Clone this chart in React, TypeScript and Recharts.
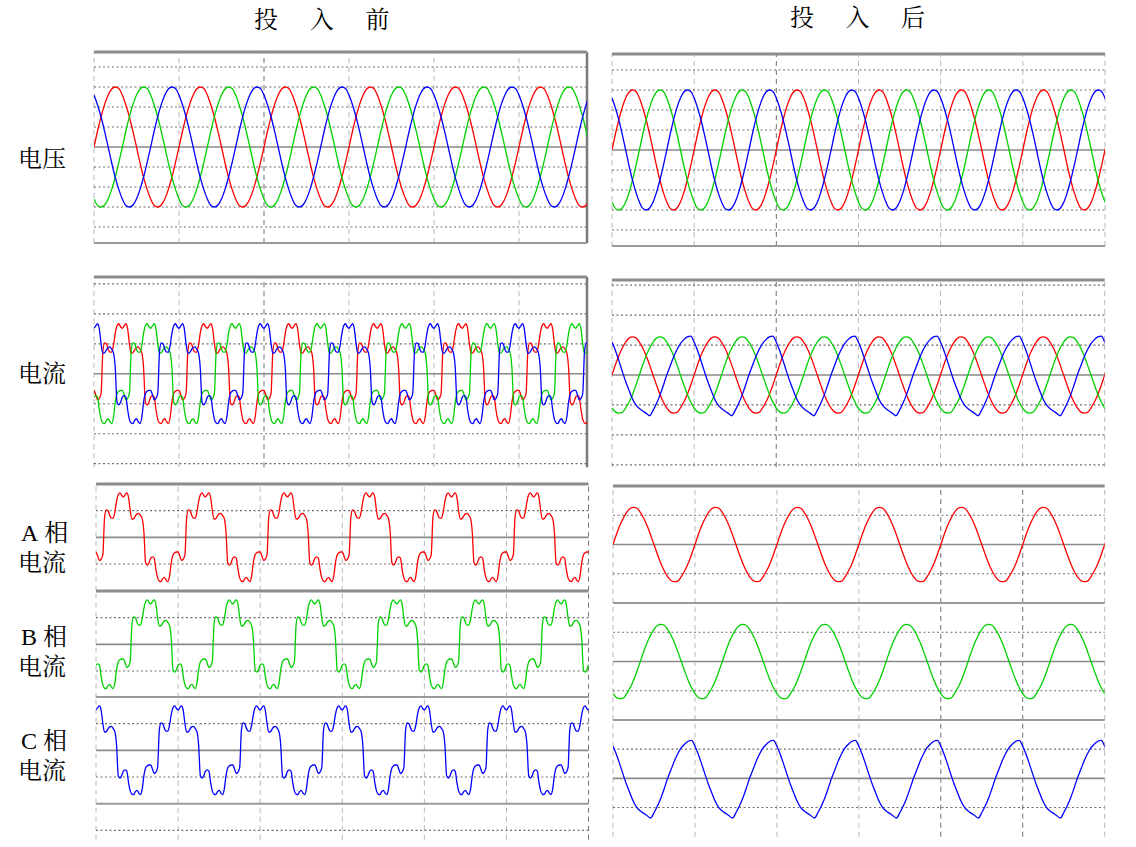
import React from 'react';
import { LineChart, Line, XAxis, YAxis, ReferenceLine } from 'recharts';

// ---------- data (one period each, tiled over the record) ----------
// phase-A grid voltage before/after, 24 samples per period (grid units, 1 unit = one dotted division)
const voltCycle = [0.0, 0.8, 1.52, 2.13, 2.6, 2.9, 3.0, 2.93, 2.6, 2.1, 1.5, 0.78, 0.0, -0.8, -1.52, -2.12, -2.6, -2.92, -3.0, -2.9, -2.6, -2.12, -1.5, -0.78];
// distorted phase-A load current before compensation, 48 samples per period
const distCurrentCycle = [-0.55, -0.7, -0.87, -0.82, -0.65, 0.75, 1.03, 1.0, 0.82, 0.72, 0.72, 0.95, 1.35, 1.6, 1.67, 1.57, 1.52, 1.6, 1.67, 1.5, 1.0, 0.68, 0.7, 0.8, 0.88, 0.9, 0.82, 0.7, 0.2, -0.95, -1.04, -0.95, -0.78, -0.73, -0.78, -1.2, -1.52, -1.64, -1.66, -1.55, -1.5, -1.6, -1.66, -1.45, -0.95, -0.66, -0.58, -0.55];
// phase-A / phase-B grid current after compensation, 24 samples per period
const afterCurrentCycle = [0.0, 0.34, 0.65, 0.9, 1.1, 1.23, 1.27, 1.24, 1.1, 0.9, 0.64, 0.33, 0.0, -0.33, -0.64, -0.9, -1.1, -1.23, -1.27, -1.25, -1.1, -0.9, -0.65, -0.34];
// phase-C grid current after compensation, 24 samples per period
const afterCurrentCCycle = [1.1, 0.82, 0.48, 0.12, -0.22, -0.52, -0.8, -1.0, -1.12, -1.2, -1.28, -1.36, -1.18, -0.95, -0.68, -0.35, 0.0, 0.3, 0.6, 0.85, 1.05, 1.18, 1.27, 1.3];

// record lengths in periods
const cyclesBeforeTop = 5.8;
const cyclesAfterTop = 6;
const cyclesBottom = 6;

// labels
const titleBefore = ['投', '入', '前'];
const titleAfter = ['投', '入', '后'];
const rowLabels = ['电压', '电流'];
const phaseLabels = [['A', '相'], ['B', '相'], ['C', '相']];
const phaseSub = '电流';

// grid values
const voltDotted = [-4, -3, -2, -1, 1, 2, 3, 4];
const currDotted = [-3, -2, -1, 1, 2, 3];
const stripDotted = [-1, 1];

const COLORS = { a: '#ff0000', b: '#00d000', c: '#0000ff' };

type Key = 'a' | 'b' | 'c';
type Row = { x: number; a?: number; b?: number; c?: number };
type SeriesDef = { key: Key; cycle: number[]; shift: number };

function pick(cycle: number[], shift: number, k: number) {
  const n = cycle.length;
  return cycle[(((k - shift) % n) + n) % n];
}

function buildRows(cycles: number, series: SeriesDef[]): Row[] {
  const n = series[0].cycle.length;
  const count = Math.ceil(cycles * n) + 1;
  const rows: Row[] = [];
  for (let k = 0; k <= count; k++) {
    const row: Row = { x: k / n };
    series.forEach((s) => {
      row[s.key] = pick(s.cycle, s.shift, k);
    });
    rows.push(row);
  }
  return rows;
}

const voltRowsBefore = buildRows(cyclesBeforeTop, [
  { key: 'a', cycle: voltCycle, shift: 0 },
  { key: 'b', cycle: voltCycle, shift: 8 },
  { key: 'c', cycle: voltCycle, shift: -8 },
]);
const voltRowsAfter = buildRows(cyclesAfterTop, [
  { key: 'a', cycle: voltCycle, shift: 0 },
  { key: 'b', cycle: voltCycle, shift: 8 },
  { key: 'c', cycle: voltCycle, shift: -8 },
]);
const currRowsBefore = buildRows(cyclesBeforeTop, [
  { key: 'a', cycle: distCurrentCycle, shift: 0 },
  { key: 'b', cycle: distCurrentCycle, shift: 16 },
  { key: 'c', cycle: distCurrentCycle, shift: -16 },
]);
const currRowsAfter = buildRows(cyclesAfterTop, [
  { key: 'a', cycle: afterCurrentCycle, shift: 0 },
  { key: 'b', cycle: afterCurrentCycle, shift: 8 },
  { key: 'c', cycle: afterCurrentCCycle, shift: 0 },
]);
const bottomRowsBefore = buildRows(cyclesBottom, [
  { key: 'a', cycle: distCurrentCycle, shift: 0 },
  { key: 'b', cycle: distCurrentCycle, shift: 16 },
  { key: 'c', cycle: distCurrentCycle, shift: -16 },
]);
const bottomRowsAfter = buildRows(cyclesBottom, [
  { key: 'a', cycle: afterCurrentCycle, shift: 0 },
  { key: 'b', cycle: afterCurrentCycle, shift: 8 },
  { key: 'c', cycle: afterCurrentCCycle, shift: 0 },
]);

// ---------- panel component ----------
type PanelProps = {
  left: number;
  top: number;
  width: number;
  height: number;
  xDomain: [number, number];
  yDomain: [number, number];
  data: Row[];
  keys: Key[];
  dotted: number[];
  solid: number[];
  thick: number[];
  thin: number[];
  vLight: number[];
  vDark: number[];
  vSolid: number[];
};

const M = 4;

function Panel(p: PanelProps) {
  return (
    <div style={{ position: 'absolute', left: p.left - M, top: p.top - M }}>
      <LineChart
        width={p.width + 2 * M}
        height={p.height + 2 * M}
        data={p.data}
        margin={{ top: M, right: M, bottom: M, left: M }}
      >
        <XAxis type="number" dataKey="x" domain={p.xDomain} hide allowDataOverflow />
        <YAxis type="number" domain={p.yDomain} hide allowDataOverflow />
        {p.vLight.map((v) => (
          <ReferenceLine key={'vl' + v} x={v} stroke="#b8b8b8" strokeWidth={1} strokeDasharray="5 4" ifOverflow="visible" />
        ))}
        {p.vDark.map((v) => (
          <ReferenceLine key={'vd' + v} x={v} stroke="#707070" strokeWidth={1} strokeDasharray="5 4" ifOverflow="visible" />
        ))}
        {p.vSolid.map((v) => (
          <ReferenceLine key={'vs' + v} x={v} stroke="#7a7a7a" strokeWidth={2.5} ifOverflow="visible" />
        ))}
        {p.dotted.map((v) => (
          <ReferenceLine key={'hd' + v} y={v} stroke="#6e6e6e" strokeWidth={1.2} strokeDasharray="2 2.5" ifOverflow="visible" />
        ))}
        {p.solid.map((v) => (
          <ReferenceLine key={'hs' + v} y={v} stroke="#8a8a8a" strokeWidth={1.6} ifOverflow="visible" />
        ))}
        {p.thin.map((v) => (
          <ReferenceLine key={'ht' + v} y={v} stroke="#9a9a9a" strokeWidth={2} ifOverflow="visible" />
        ))}
        {p.thick.map((v) => (
          <ReferenceLine key={'hk' + v} y={v} stroke="#8c8c8c" strokeWidth={3} ifOverflow="visible" />
        ))}
        {p.keys.map((k) => (
          <Line
            key={k}
            dataKey={k}
            stroke={COLORS[k]}
            strokeWidth={1.3}
            dot={false}
            type="monotone"
            isAnimationActive={false}
          />
        ))}
      </LineChart>
    </div>
  );
}

const FONT = '"Liberation Serif", "Noto Serif CJK SC", "Noto Sans CJK SC", serif';

function Chars({ chars, left, top, step }: { chars: string[]; left: number; top: number; step: number }) {
  return (
    <>
      {chars.map((c, i) => (
        <div
          key={i}
          style={{
            position: 'absolute',
            left: left + i * step,
            top,
            fontSize: 24,
            lineHeight: '24px',
            fontFamily: FONT,
            color: '#000',
          }}
        >
          {c}
        </div>
      ))}
    </>
  );
}

function Label({ text, left, top }: { text: string; left: number; top: number }) {
  return (
    <div style={{ position: 'absolute', left, top, fontSize: 24, lineHeight: '24px', fontFamily: FONT, color: '#000', whiteSpace: 'nowrap' }}>
      {text}
    </div>
  );
}

export default function App() {
  const allKeys: Key[] = ['a', 'b', 'c'];
  const blX = 95.7;
  const blW = 492.6;
  const brX = 613.3;
  const brW = 491.7;
  const blH = 106.7;
  const brH = 117;
  return (
    <div style={{ position: 'absolute', left: 0, top: 0, width: 1136, height: 847, background: '#fff', overflow: 'hidden' }}>
      {/* titles */}
      <Chars chars={titleBefore} left={254} top={8} step={55.7} />
      <Chars chars={titleAfter} left={790} top={6} step={55.5} />

      {/* left labels */}
      <Label text={rowLabels[0]} left={18} top={147} />
      <Label text={rowLabels[1]} left={18} top={362} />
      {phaseLabels.map((pl, i) => (
        <React.Fragment key={i}>
          <div style={{ position: 'absolute', left: 21, top: 521 + i * 104, fontSize: 24, lineHeight: '24px', fontFamily: FONT, whiteSpace: 'nowrap' }}>
            <span>{pl[0]}</span>
            <span style={{ marginLeft: 6 }}>{pl[1]}</span>
          </div>
          <Label text={phaseSub} left={18} top={551 + i * 104} />
        </React.Fragment>
      ))}

      {/* voltage before */}
      <Panel
        left={94}
        top={52}
        width={493}
        height={191}
        xDomain={[0, cyclesBeforeTop]}
        yDomain={[-4.8, 4.75]}
        data={voltRowsBefore}
        keys={allKeys}
        dotted={voltDotted}
        solid={[0]}
        thick={[4.75]}
        thin={[-4.8]}
        vLight={[0, 1, 3, 4, 5]}
        vDark={[2]}
        vSolid={[cyclesBeforeTop]}
      />
      {/* voltage after */}
      <Panel
        left={612}
        top={54}
        width={493}
        height={192}
        xDomain={[0, cyclesAfterTop]}
        yDomain={[-4.8, 4.8]}
        data={voltRowsAfter}
        keys={allKeys}
        dotted={voltDotted}
        solid={[0]}
        thick={[4.8]}
        thin={[-4.8]}
        vLight={[0, 1, 3, 4, 5, 6]}
        vDark={[2]}
        vSolid={[]}
      />
      {/* current before */}
      <Panel
        left={94}
        top={276.7}
        width={493}
        height={190.3}
        xDomain={[0, cyclesBeforeTop]}
        yDomain={[-3.12, 3.23]}
        data={currRowsBefore}
        keys={allKeys}
        dotted={currDotted}
        solid={[0]}
        thick={[3.23]}
        thin={[]}
        vLight={[0, 1, 3, 4, 5]}
        vDark={[2]}
        vSolid={[cyclesBeforeTop]}
      />
      {/* current after */}
      <Panel
        left={612.3}
        top={280}
        width={492.7}
        height={187}
        xDomain={[0, cyclesAfterTop]}
        yDomain={[-3.07, 3.17]}
        data={currRowsAfter}
        keys={allKeys}
        dotted={currDotted}
        solid={[0]}
        thick={[3.17]}
        thin={[]}
        vLight={[0, 1, 3, 4, 5, 6]}
        vDark={[2]}
        vSolid={[]}
      />

      {/* bottom-left strips */}
      {(['a', 'b'] as Key[]).map((k, i) => (
        <Panel
          key={'bl' + k}
          left={blX}
          top={484 + i * blH}
          width={blW}
          height={blH}
          xDomain={[0, cyclesBottom]}
          yDomain={[-2, 2]}
          data={bottomRowsBefore}
          keys={[k]}
          dotted={stripDotted}
          solid={[0]}
          thick={[2]}
          thin={[]}
          vLight={[0, 1, 2, 3, 4, 5]}
          vDark={[6]}
          vSolid={[]}
        />
      ))}
      <Panel
        left={blX}
        top={484 + 2 * blH}
        width={blW}
        height={142.7}
        xDomain={[0, cyclesBottom]}
        yDomain={[-3.35, 2]}
        data={bottomRowsBefore}
        keys={['c']}
        dotted={[-3, -1, 1]}
        solid={[0]}
        thick={[]}
        thin={[2, -2]}
        vLight={[0, 1, 2, 3, 4, 5]}
        vDark={[6]}
        vSolid={[]}
      />

      {/* bottom-right strips */}
      {allKeys.map((k, i) => (
        <Panel
          key={'br' + k}
          left={brX}
          top={485.7 + i * brH}
          width={brW}
          height={i === 2 ? 116.7 : brH}
          xDomain={[0, cyclesBottom]}
          yDomain={[-2, 2]}
          data={bottomRowsAfter}
          keys={[k]}
          dotted={stripDotted}
          solid={[0]}
          thick={i === 0 ? [2] : []}
          thin={i === 0 ? [] : [2]}
          vLight={[0, 1, 2, 3, 6]}
          vDark={[4, 5]}
          vSolid={[]}
        />
      ))}
    </div>
  );
}
